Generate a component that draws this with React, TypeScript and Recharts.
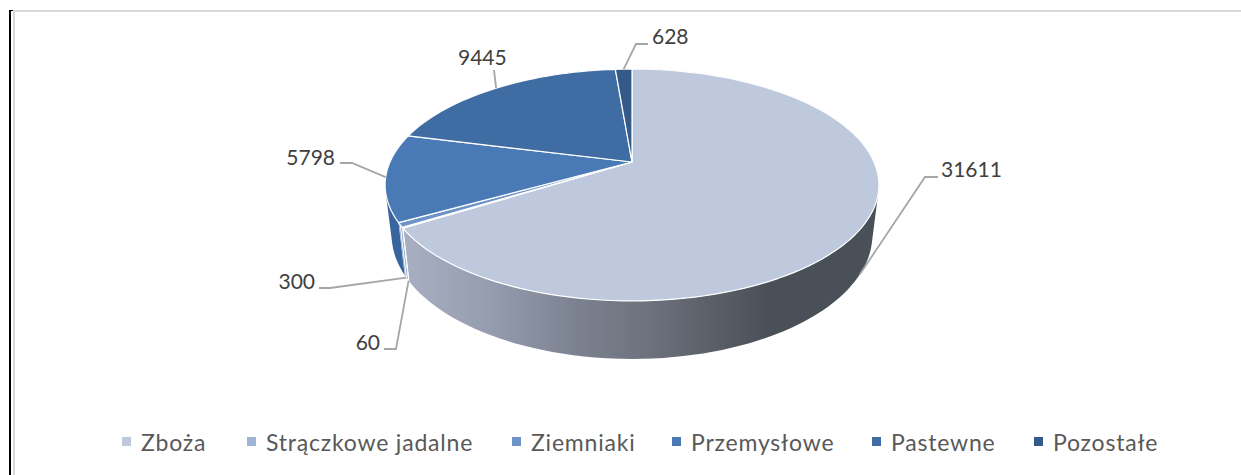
import { Legend, Pie, PieChart } from "recharts";

const categories = ["Zboża", "Strączkowe jadalne", "Ziemniaki", "Przemysłowe", "Pastewne", "Pozostałe"];
const values = [31611, 60, 300, 5798, 9445, 628];
const topColors = ["#bec9de", "#a0b4d6", "#6e93c6", "#4a7ab5", "#3f6ca3", "#345a88"];
const wallColors = ["url(#wallShade)", "#8ea3c8", "#5f86bb", "#38659d", "#345f93", "#2c4f79"];

const topRows = categories.map((name, i) => ({ name, value: values[i], fill: topColors[i] }));
const wallRows = categories.map((name, i) => ({ name, value: values[i], fill: wallColors[i] }));

// where each data label and its elbow sit, [text x, text mid y, elbow x, elbow y, line end x, line end y]
const labelSpots = [
  [941, 168, 925, 177, 938, 177],
  [380, 341, 396, 349, 384, 349],
  [315, 280, 330, 288, 319, 288],
  [335, 156, 352, 163, 340, 163],
  [458, 56, 494, 70, 494, 70],
  [652, 35, 636, 44, 648, 44],
];
const legendX = [122, 247, 512, 672, 872, 1034];

const WIDTH = 1241;
const HEIGHT = 475;
const FONT = "Lato, sans-serif";

// perspective projection of the flat pie: the far side shrinks, the apex sits above the rim's centre
const TILT = 0.198;
const project = (cx: number, cy: number, r: number, angle: number, lower: boolean) => {
  const rad = (angle * Math.PI) / 180;
  const across = Math.cos(rad);
  const away = Math.sin(rad);
  const d = 1 + TILT * away;
  if (lower) return [cx + (0.9736 * r * across) / d, cy + 48.3 - (0.4926 * r * away) / d];
  return [cx + (r * across) / d, cy - (0.4603 * r * away) / d];
};

const arcPoints = (p: any, lower: boolean) => {
  const pts: number[][] = [];
  const steps = Math.max(2, Math.ceil(Math.abs(p.endAngle - p.startAngle) / 2));
  for (let i = 0; i <= steps; i++) {
    const a = p.startAngle + ((p.endAngle - p.startAngle) * i) / steps;
    pts.push(project(p.cx, p.cy, p.outerRadius, a, lower));
  }
  return pts;
};

const toPath = (pts: number[][]) =>
  "M" + pts.map((q) => `${q[0].toFixed(2)},${q[1].toFixed(2)}`).join("L") + "Z";

// signed area, so every wall quad can be wound the same way and they fill as one shape
const area = (q: number[][]) =>
  q.reduce((sum, a, i) => {
    const b = q[(i + 1) % q.length];
    return sum + a[0] * b[1] - b[0] * a[1];
  }, 0);

function TopSlice(p: any) {
  const d = toPath([[p.cx, p.cy], ...arcPoints(p, false)]);
  return <path d={d} fill={p.fill} stroke="#ffffff" strokeWidth={1.2} strokeLinejoin="round" />;
}

function WallSlice(p: any) {
  const upper = arcPoints(p, false);
  const lower = arcPoints(p, true);
  let d = "";
  for (let i = 0; i < upper.length - 1; i++) {
    const quad = [upper[i], upper[i + 1], lower[i + 1], lower[i]];
    d += toPath(area(quad) < 0 ? quad.reverse() : quad);
  }
  const narrow = Math.abs(p.endAngle - p.startAngle) < 5;
  return <path d={d} fill={p.fill} fillRule="nonzero" stroke={narrow ? "#ffffff" : "none"} strokeWidth={0.8} />;
}

function ValueLabel(p: any) {
  const [tx, ty, ex, ey, lx, ly] = labelSpots[p.index];
  const onWall = p.index < 3;
  const [sx, sy] = project(p.cx, p.cy, p.outerRadius, p.midAngle, onWall);
  const before = p.index === 1 || p.index === 2 || p.index === 3;
  return (
    <g>
      <polyline
        points={`${sx},${sy} ${ex},${ey} ${lx},${ly}`}
        fill="none"
        stroke="#a6a6a6"
        strokeWidth={1.8}
      />
      <text
        x={tx}
        y={ty}
        textAnchor={before ? "end" : "start"}
        dominantBaseline="central"
        fontFamily={FONT}
        fontSize={21}
        fill="#404040"
      >
        {p.value}
      </text>
    </g>
  );
}

function LegendRow({ payload }: any) {
  const items = (payload || []).filter((item: any) => topColors.includes(item.color));
  return (
    <div
      style={{
        position: "relative",
        height: 30,
        fontFamily: FONT,
        fontSize: 23,
        letterSpacing: 0.8,
        color: "#595959",
      }}
    >
      {items.map((item: any) => (
        <div
          key={item.value}
          style={{ position: "absolute", left: legendX[categories.indexOf(item.value)], top: 0, whiteSpace: "nowrap" }}
        >
          <span
            style={{
              position: "absolute",
              left: 0,
              top: 9,
              width: 9,
              height: 9,
              background: item.color,
            }}
          />
          <span style={{ marginLeft: 19, lineHeight: "28px" }}>{item.value}</span>
        </div>
      ))}
    </div>
  );
}

export default function App() {
  return (
    <div style={{ position: "absolute", left: 0, top: 0, width: WIDTH, height: HEIGHT, overflow: "hidden", background: "#fff" }}>
      <div style={{ position: "absolute", left: 9, top: 10, width: 2, height: HEIGHT, background: "#000" }} />
      <div style={{ position: "absolute", left: 11, top: 10, width: 2, height: 1, background: "#000" }} />
      <div style={{ position: "absolute", left: 13, top: 10, width: 2, height: HEIGHT, background: "#d9d9d9" }} />
      <div style={{ position: "absolute", left: 13, top: 10, width: WIDTH, height: 2, background: "#d9d9d9" }} />
      <PieChart width={WIDTH} height={HEIGHT} margin={{ top: 0, right: 0, bottom: 0, left: 0 }}>
        <defs>
          <linearGradient id="wallShade" gradientUnits="userSpaceOnUse" x1={400} y1={0} x2={770} y2={0}>
            <stop offset="0%" stopColor="#a9b0c3" />
            <stop offset="25%" stopColor="#959cae" />
            <stop offset="48%" stopColor="#7b818f" />
            <stop offset="68%" stopColor="#6c717c" />
            <stop offset="85%" stopColor="#5a5e67" />
            <stop offset="100%" stopColor="#4a5058" />
          </linearGradient>
        </defs>
        <Pie
          data={wallRows}
          dataKey="value"
          nameKey="name"
          cx={632}
          cy={162}
          outerRadius={242}
          startAngle={90}
          endAngle={-270}
          legendType="none"
          shape={WallSlice}
          isAnimationActive={false}
        />
        <Pie
          data={topRows}
          dataKey="value"
          nameKey="name"
          cx={632}
          cy={162}
          outerRadius={242}
          startAngle={90}
          endAngle={-270}
          shape={TopSlice}
          label={ValueLabel}
          labelLine={false}
          isAnimationActive={false}
        />
        <Legend
          content={LegendRow}
          itemSorter={null}
          wrapperStyle={{ position: "absolute", left: 0, top: 428, width: WIDTH, height: 30 }}
        />
      </PieChart>
    </div>
  );
}
